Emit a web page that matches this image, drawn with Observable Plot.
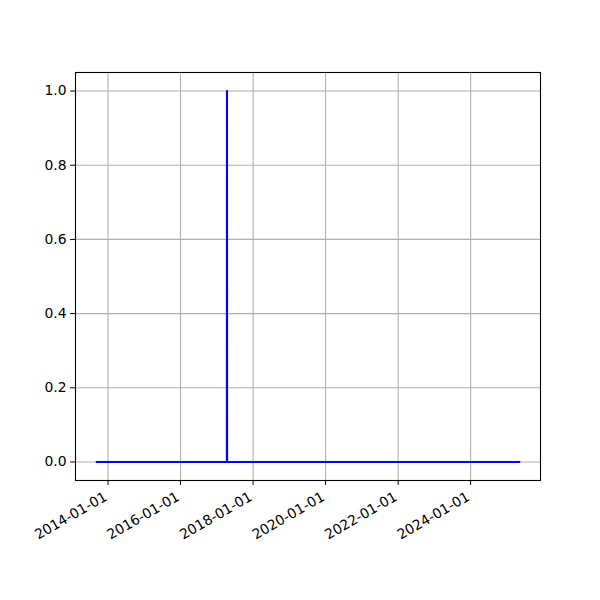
<!DOCTYPE html>
<html><head><meta charset="utf-8">
<script src="https://cdn.jsdelivr.net/npm/d3@7"></script>
<script src="https://cdn.jsdelivr.net/npm/@observablehq/plot@0.6"></script>
<style>body{margin:0;background:#fff;font-family:"DejaVu Sans",sans-serif;}</style>
</head><body><div id="chart"></div>
<script>
const dates = ["2013-09-08","2017-04-12","2017-04-13","2017-04-14","2025-05-06"];
const values = [0, 0, 1, 0, 0];
const xTicks = ["2014-01-01","2016-01-01","2018-01-01","2020-01-01","2022-01-01","2024-01-01"];
const yTicks = [0, 0.2, 0.4, 0.6, 0.8, 1.0];

const data = dates.map((d, i) => ({date: new Date(d + "T00:00:00Z"), value: values[i]}));
const ext = d3.extent(data, d => d.date);
const pad = (ext[1] - ext[0]) * 0.05;
const xDomain = [new Date(+ext[0] - pad), new Date(+ext[1] + pad)];
const tickDates = xTicks.map(d => new Date(d + "T00:00:00Z"));
const fmt = d3.utcFormat("%Y-%m-%d");

const chart = Plot.plot({
  width: 600, height: 600,
  marginLeft: 75, marginRight: 60, marginTop: 72, marginBottom: 120,
  style: {fontFamily: "DejaVu Sans, sans-serif", fontSize: "13.9px", color: "#000", background: "#fff"},
  x: {type: "utc", domain: xDomain},
  y: {domain: [-0.05, 1.05]},
  marks: [
    Plot.gridX(tickDates, {stroke: "#b0b0b0", strokeOpacity: 1, strokeWidth: 1.1}),
    Plot.gridY(yTicks, {stroke: "#b0b0b0", strokeOpacity: 1, strokeWidth: 1.1}),
    Plot.line(data, {x: "date", y: "value", stroke: "#0000ff", strokeWidth: 2.1}),
    Plot.frame({stroke: "#000", strokeWidth: 1.1}),
    Plot.axisX(tickDates, {tickSize: 4.9, tickFormat: () => "", label: null}),
    Plot.text(tickDates, {x: d => d, frameAnchor: "bottom", dy: 19, dx: 0, rotate: -30,
      textAnchor: "end", lineAnchor: "bottom", text: d => fmt(d), fontSize: 13.9, fill: "#000"}),
    Plot.axisY(yTicks, {tickSize: 4.9, tickPadding: 4, tickFormat: d => d.toFixed(1), label: null, fontSize: 13.9})
  ]
});
document.getElementById("chart").append(chart);
</script></body></html>
